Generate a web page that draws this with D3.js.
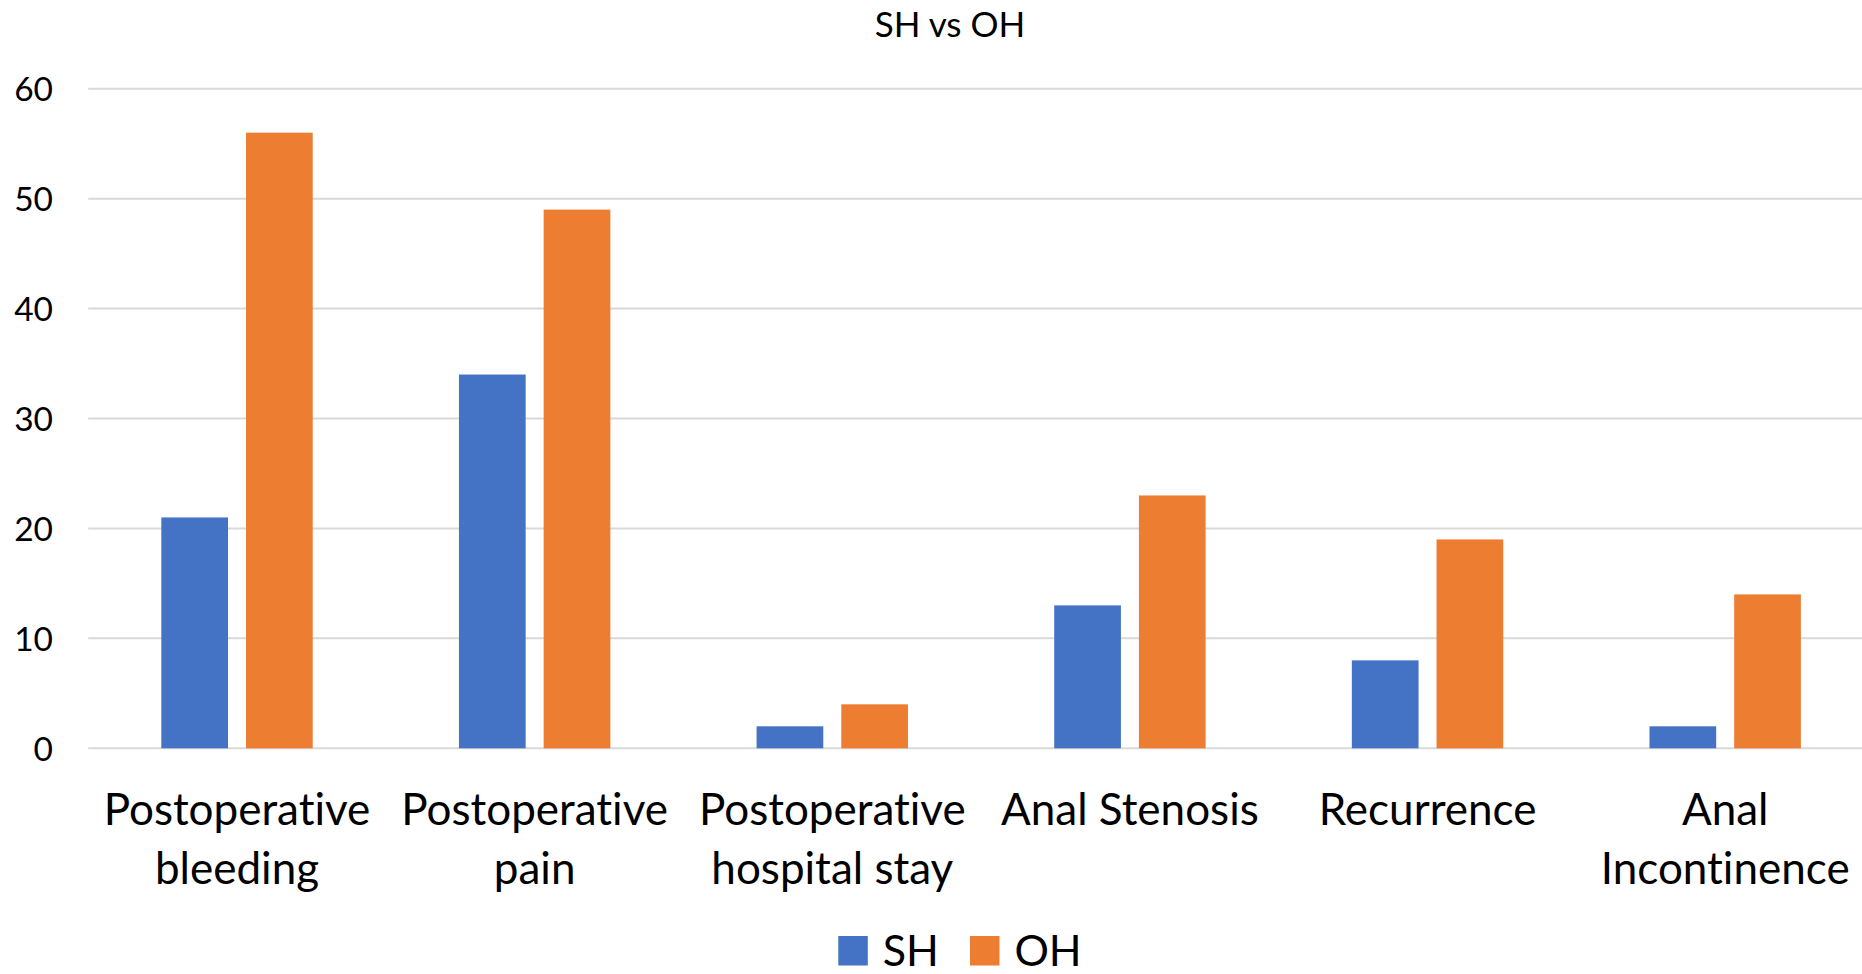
<!DOCTYPE html>
<html>
<head>
<meta charset="utf-8">
<script src="https://cdn.jsdelivr.net/npm/d3@7"></script>
<style>
  html, body { margin: 0; padding: 0; background: #fff; }
  svg { display: block; font-family: Lato, "Open Sans", sans-serif; font-variant-ligatures: none; }
</style>
</head>
<body>
<svg id="chart" width="1862" height="974"></svg>
<script>
const title = "SH vs OH";
const categories = ["Postoperative bleeding", "Postoperative pain", "Postoperative hospital stay", "Anal Stenosis", "Recurrence", "Anal Incontinence"];
const seriesNames = ["SH", "OH"];
const shValues = [21, 34, 2, 13, 8, 2];
const ohValues = [56, 49, 4, 23, 19, 14];
const yTicks = [0, 10, 20, 30, 40, 50, 60];
const colors = ["#4472C4", "#ED7D31"];

const svg = d3.select("#chart");
const W = 1862;
const plot = { left: 88.2, right: 1874, top: 88.7, bottom: 748.3 };

const y = d3.scaleLinear().domain([0, 60]).range([plot.bottom, plot.top]);
const x0 = d3.scaleBand().domain(categories).range([plot.left, plot.right]).padding(0);
const groupW = 151.4;
const x1 = d3.scaleBand().domain(seriesNames).range([0, groupW]).paddingInner(0.2125).paddingOuter(0);
const groupOffset = (x0.bandwidth() - groupW) / 2;

// gridlines
svg.append("g").selectAll("line").data(yTicks).join("line")
  .attr("x1", plot.left).attr("x2", W)
  .attr("y1", d => y(d)).attr("y2", d => y(d))
  .attr("stroke", "#d9d9d9").attr("stroke-width", 2);

// y axis labels
const yAxis = d3.axisLeft(y).tickValues(yTicks).tickSize(0).tickPadding(0);
const yg = svg.append("g").attr("transform", "translate(53,0)").call(yAxis);
yg.select(".domain").remove();
yg.selectAll("text").attr("font-size", 33.5).attr("fill", "#000")
  .attr("font-family", "Lato, sans-serif").attr("dy", "0.36em");

// bars
const data = categories.map((c, i) => ({ cat: c, values: [shValues[i], ohValues[i]] }));
const groups = svg.append("g").selectAll("g").data(data).join("g")
  .attr("transform", d => `translate(${x0(d.cat) + groupOffset},0)`);
groups.selectAll("rect").data(d => d.values.map((v, j) => ({ s: seriesNames[j], v, j })))
  .join("rect")
  .attr("x", d => x1(d.s))
  .attr("width", x1.bandwidth())
  .attr("y", d => y(d.v))
  .attr("height", d => y(0) - y(d.v))
  .attr("fill", d => colors[d.j]);

// category labels
const xAxis = d3.axisBottom(x0).tickSize(0).tickPadding(0);
const xg = svg.append("g").attr("transform", "translate(0,0)").call(xAxis);
xg.select(".domain").remove();
xg.selectAll("text").each(function(d) {
  const t = d3.select(this);
  t.text(null).attr("y", 0).attr("dy", null)
    .attr("font-size", 44).attr("fill", "#000").attr("font-family", "Lato, sans-serif")
    .attr("text-anchor", "middle");
  const words = d.split(" ");
  const maxW = x0.bandwidth() - 4;
  let lines = [];
  let line = [];
  const tmp = t.append("tspan");
  words.forEach(w => {
    const test = line.concat([w]).join(" ");
    tmp.text(test);
    if (tmp.node().getComputedTextLength() > maxW && line.length) {
      lines.push(line.join(" "));
      line = [w];
    } else {
      line.push(w);
    }
  });
  lines.push(line.join(" "));
  tmp.remove();
  lines.forEach((l, k) => {
    t.append("tspan").attr("x", 0).attr("y", 825 + k * 59).text(l);
  });
});

// title
svg.append("text").attr("x", 950).attr("y", 37).attr("text-anchor", "middle")
  .attr("font-size", 35).attr("fill", "#000").text(title);

// legend
const legendX = [838.3, 970];
const lg = svg.append("g").selectAll("g").data(seriesNames).join("g")
  .attr("transform", (d, i) => `translate(${legendX[i]},936)`);
lg.append("rect").attr("width", 29.5).attr("height", 29.5).attr("fill", (d, i) => colors[i]);
lg.append("text").attr("x", 44.4).attr("y", 29.5).attr("font-size", 43)
  .attr("fill", "#000").text(d => d);
</script>
</body>
</html>
